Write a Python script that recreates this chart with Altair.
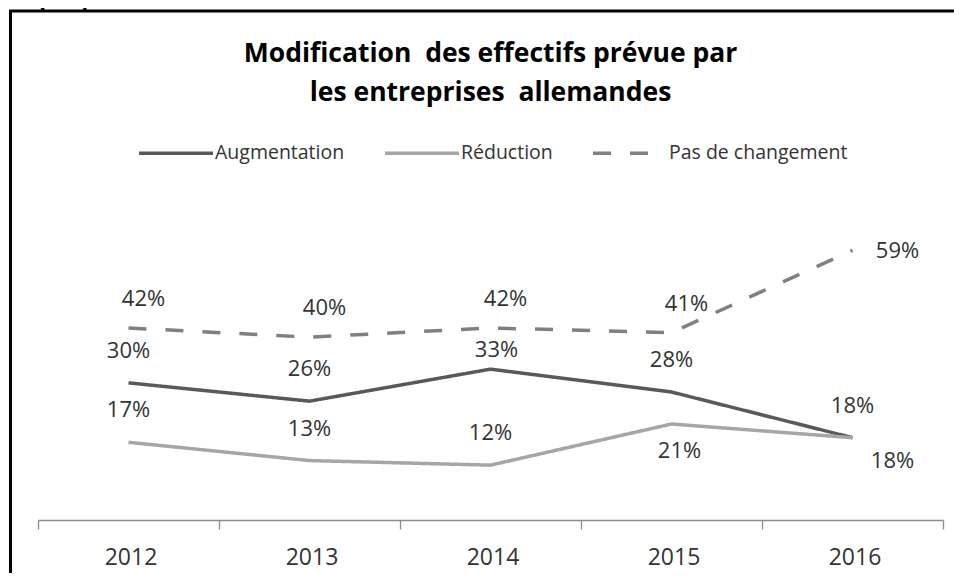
import altair as alt
import pandas as pd

# ---- data ----
years = [2012, 2013, 2014, 2015, 2016]
series_names = ["Augmentation", "Réduction", "Pas de changement"]
augmentation = [30, 26, 33, 28, 18]
reduction = [17, 13, 12, 21, 18]
pas_de_changement = [42, 40, 42, 41, 59]

# where each data label sits relative to its point
aug_label_place = ["above", "above", "above_low", "above", "above"]
red_label_place = ["above", "above", "above", "below", "below_right"]
pdc_label_place = ["above_right", "above_right", "above_right", "above_right", "right"]

title_lines = ["Modification \u00a0des effectifs prévue par", "les entreprises \u00a0allemandes"]
caption = "Graphique 1"

rows = []
for name, vals, places in zip(series_names,
                              [augmentation, reduction, pas_de_changement],
                              [aug_label_place, red_label_place, pdc_label_place]):
    for yr, v, p in zip(years, vals, places):
        rows.append({"year": yr, "serie": name, "value": v, "label": f"{v}%", "place": p})
df = pd.DataFrame(rows)

# category boundaries (Excel-style ticks between categories)
bounds = [y - 0.5 for y in years] + [years[-1] + 0.5]

W, H = 905, 320
FONT = "Open Sans"
TXT = "#333333"
AXC = "#8c8c8c"

colors = ["#595959", "#a6a6a6", "#808080"]
dashes = [[1, 0], [1, 0], [18, 19]]

legend = alt.Legend(
    title=None, orient="none", legendX=99, legendY=-86,
    direction="horizontal", columns=3, gridAlign="each",
    symbolType="stroke", symbolSize=5476, symbolStrokeWidth=3.5,
    labelFont=FONT, labelFontSize=19.5, labelColor=TXT, labelLimit=400,
    labelOffset=0, columnPadding=33,
)

x = alt.X(
    "year:Q",
    scale=alt.Scale(domain=[bounds[0], bounds[-1]], nice=False, zero=False),
    axis=alt.Axis(
        values=bounds, title=None, grid=False,
        labelExpr="datum.value < %d ? format(datum.value + 0.5, 'd') : ''" % years[-1],
        labelOffset=W / (2 * len(years)) + 2, labelFlush=False, labelOverlap=False,
        labelFont=FONT, labelFontSize=23, labelColor=TXT, labelPadding=17,
        domainColor=AXC, domainWidth=1.3, tickColor=AXC, tickWidth=1.3, tickSize=9,
    ),
)
y = alt.Y("value:Q", scale=alt.Scale(domain=[0, 70], nice=False), axis=None)

base = alt.Chart(df)

lines = base.mark_line(strokeWidth=3.5, strokeCap="butt", strokeJoin="round").encode(
    x=x, y=y,
    color=alt.Color("serie:N", scale=alt.Scale(domain=series_names, range=colors), legend=legend),
    strokeDash=alt.StrokeDash("serie:N", scale=alt.Scale(domain=series_names, range=dashes), legend=legend),
    order=alt.Order("year:Q"),
)

offsets = {
    "above": (0, -32),
    "above_low": (6, -19),
    "above_right": (15, -29),
    "right": (45, 1),
    "below": (8, 27),
    "below_right": (40, 23),
}
texts = []
for place, (ddx, ddy) in offsets.items():
    texts.append(
        base.transform_filter(alt.datum.place == place)
        .mark_text(font=FONT, fontSize=22, color=TXT, dx=ddx, dy=ddy, baseline="middle", align="center")
        .encode(x=x, y=y, text="label:N")
    )

frame_df = pd.DataFrame({"k": [0]})
border = alt.Chart(frame_df).mark_rect(fill="transparent", stroke="black", strokeWidth=3).encode(
    x=alt.value(-27.5), x2=alt.value(W + 200), y=alt.value(-189), y2=alt.value(H + 200)
)
cap = alt.Chart(frame_df).mark_text(
    text=caption, font=FONT, fontSize=22, fontWeight="bold", color="black",
    align="left", baseline="alphabetic"
).encode(x=alt.value(-38), y=alt.value(-194))

title_marks = []
for i, line in enumerate(title_lines):
    title_marks.append(
        alt.Chart(frame_df).mark_text(
            text=line, font=FONT, fontSize=26.5, fontWeight="bold", color="black",
            align="center", baseline="middle"
        ).encode(x=alt.value(W / 2), y=alt.value(-146 + 39 * i))
    )

chart = alt.layer(border, cap, *title_marks, lines, *texts).properties(
    width=W, height=H,
    autosize=alt.AutoSizeParams(type="none"),
    padding={"left": 30, "top": 192, "right": 11, "bottom": 53},
).configure_view(stroke=None)

chart.save("out.html", embed_options={"renderer": "svg", "actions": False})
